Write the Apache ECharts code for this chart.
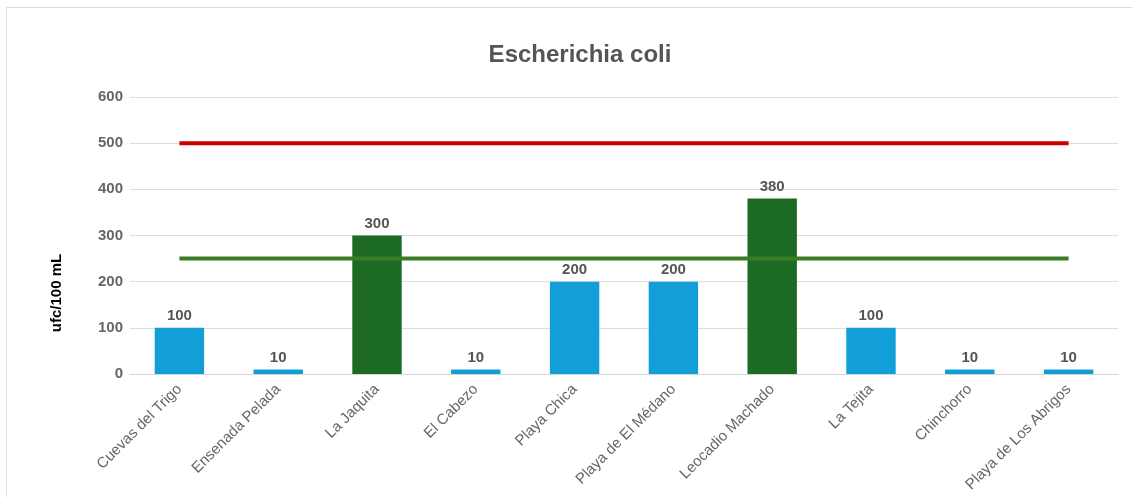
<!DOCTYPE html>
<html><head><meta charset="utf-8">
<script src="https://cdn.jsdelivr.net/npm/echarts@6/dist/echarts.min.js"></script>
<style>
html,body{margin:0;padding:0;background:#fff;overflow:hidden}
#frame{position:absolute;left:6px;top:7px;width:1140px;height:520px;border:1px solid #dcdcdc;box-sizing:border-box}
#c{position:absolute;left:0;top:0;width:1132px;height:497px}
</style></head>
<body>
<div id="frame"></div>
<div id="c"></div>
<script>
const categories = ["Cuevas del Trigo","Ensenada Pelada","La Jaquita","El Cabezo","Playa Chica","Playa de El Médano","Leocadio Machado","La Tejita","Chinchorro","Playa de Los Abrigos"];
const values = [100,10,300,10,200,200,380,100,10,10];
const exceedFlags = [false,false,true,false,false,false,true,false,false,false];
const limitRed = [500,500,500,500,500,500,500,500,500,500];
const limitGreen = [250,250,250,250,250,250,250,250,250,250];
const yTicks = [0,100,200,300,400,500,600];

const FONT = "'Liberation Sans Narrow','Arial Narrow','Liberation Sans',Arial,sans-serif";
const blue = '#129fd7', dgreen = '#1c6a24';
const chart = echarts.init(document.getElementById('c'), null, {renderer:'canvas'});
chart.setOption({
  animation:false,
  backgroundColor:'transparent',
  title:{text:'Escherichia coli', left:575, top:38, textAlign:'center',
    textStyle:{fontFamily:FONT, fontSize:24, fontWeight:'bold', color:'#555'}},
  grid:{left:130, right:14, top:97, bottom:123},
  xAxis:{type:'category', data:categories,
    axisLine:{lineStyle:{color:'#d6d6d6'}}, axisTick:{show:false},
    axisLabel:{rotate:45, interval:0, fontFamily:FONT, fontSize:15, color:'#666', margin:13}},
  yAxis:{type:'value', min:yTicks[0], max:yTicks[yTicks.length-1], interval:100,
    axisLine:{show:false}, axisTick:{show:false},
    splitLine:{lineStyle:{color:'#dedede', width:1}},
    axisLabel:{fontFamily:FONT, fontSize:15, fontWeight:'bold', color:'#666', margin:7}},
  graphic:[{type:'text', x:57, y:293, rotation:Math.PI/2,
    style:{text:'ufc/100 mL', fontFamily:FONT, fontSize:15, fontWeight:'bold', fill:'#000', textAlign:'center', textVerticalAlign:'middle'}}],
  series:[
    {type:'bar', barWidth:'50%', z:2,
     data: values.map((v,i)=>({value:v, itemStyle:{color: exceedFlags[i]?dgreen:blue}})),
     label:{show:true, position:'top', distance:4, fontFamily:FONT, fontSize:15, fontWeight:'bold', color:'#555'}},
    {type:'line', data:limitRed, symbol:'none', z:3, lineStyle:{color:'#cc0000', width:4}},
    {type:'line', data:limitGreen, symbol:'none', z:3, lineStyle:{color:'#3a7d24', width:4}}
  ]
});
</script>
</body></html>
